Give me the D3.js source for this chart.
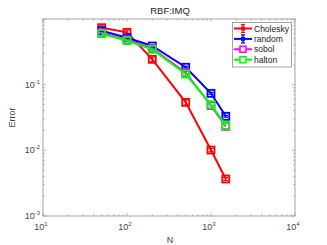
<!DOCTYPE html>
<html>
<head>
<meta charset="utf-8">
<script src="https://cdn.jsdelivr.net/npm/d3@7"></script>
<style>
  body { margin: 0; background: #fff; }
  text { font-family: "Liberation Sans", Arial, sans-serif; }
</style>
</head>
<body>
<script>
var nPoints = [50, 100, 200, 500, 1000, 1500];
var cholesky = [0.736, 0.626, 0.243, 0.0538, 0.0101, 0.00366];
var choleskyErr = [0.05, 0.05, 0.02, 0.005, 0.0006, 0.0002];
var random = [0.663, 0.519, 0.388, 0.184, 0.0738, 0.033];
var randomErr = [0.025, 0.02, 0.015, 0.006, 0.0025, 0.001];
var sobol = [0.615, 0.48, 0.355, 0.152, 0.048, 0.0232];
var halton = [0.597, 0.467, 0.345, 0.145, 0.0495, 0.024];
var seriesNames = ["Cholesky", "random", "sobol", "halton"];
var seriesColors = ["#ff0000", "#0000ff", "#ff00ff", "#00ff00"];
var xTickExps = [1, 2, 3, 4];
var yTickExps = [-3, -2, -1];

var W = 327, H = 245;
var m = {left: 43, right: 32, top: 19, bottom: 29};

var svg = d3.select("body").append("svg")
    .attr("width", W)
    .attr("height", H);

var x = d3.scaleLog().domain([10, 10000]).range([m.left, W - m.right]);
var y = d3.scaleLog().domain([0.001, 1]).range([H - m.bottom, m.top]);

var axisCol = "#8c8c8c";
var x0 = x.range()[0], x1 = x.range()[1], y0 = y.range()[0], y1 = y.range()[1];

// minor / major ticks on all 4 sides
var g = svg.append("g");
function xTicks() {
  var t = [];
  for (var e = 1; e < 4; e++) for (var k = 1; k < 10; k++) t.push({v: k * Math.pow(10, e), major: k == 1});
  t.push({v: 10000, major: true});
  return t;
}
function yTicks() {
  var t = [];
  for (var e = -3; e < 0; e++) for (var k = 1; k < 10; k++) t.push({v: k * Math.pow(10, e), major: k == 1});
  t.push({v: 1, major: true});
  return t;
}
xTicks().forEach(function(d) {
  var len = d.major ? 3 : 1.8;
  g.append("line").attr("x1", x(d.v)).attr("x2", x(d.v)).attr("y1", y0).attr("y2", y0 - len)
    .attr("stroke", axisCol).attr("stroke-width", 0.6);
  g.append("line").attr("x1", x(d.v)).attr("x2", x(d.v)).attr("y1", y1).attr("y2", y1 + len)
    .attr("stroke", axisCol).attr("stroke-width", 0.6);
});
yTicks().forEach(function(d) {
  var len = d.major ? 3 : 1.8;
  g.append("line").attr("y1", y(d.v)).attr("y2", y(d.v)).attr("x1", x0).attr("x2", x0 + len)
    .attr("stroke", axisCol).attr("stroke-width", 0.6);
  g.append("line").attr("y1", y(d.v)).attr("y2", y(d.v)).attr("x1", x1).attr("x2", x1 - len)
    .attr("stroke", axisCol).attr("stroke-width", 0.6);
});
g.append("rect").attr("x", x0).attr("y", y1).attr("width", x1 - x0).attr("height", y0 - y1)
  .attr("fill", "none").attr("stroke", axisCol).attr("stroke-width", 0.8);

// tick labels
var labCol = "#444";
xTickExps.forEach(function(e) {
  var t = svg.append("text").attr("x", x(Math.pow(10, e)) - 2).attr("y", y0 + 14)
    .attr("text-anchor", "middle").attr("font-size", 9).attr("fill", labCol);
  t.append("tspan").text("10");
  t.append("tspan").attr("dy", -4).attr("font-size", 6).text(e);
});
yTickExps.forEach(function(e) {
  var t = svg.append("text").attr("x", x0 - 3).attr("y", y(Math.pow(10, e)) + 3)
    .attr("text-anchor", "end").attr("font-size", 9).attr("fill", labCol);
  t.append("tspan").text("10");
  t.append("tspan").attr("dy", -4).attr("font-size", 6).text(e);
});

svg.append("text").attr("x", (x0 + x1) / 2 + 1).attr("y", H - 2).attr("text-anchor", "middle")
  .attr("font-size", 9).attr("fill", labCol).text("N");
svg.append("text").attr("transform", "translate(15," + ((y0 + y1) / 2) + ") rotate(-90)")
  .attr("text-anchor", "middle").attr("font-size", 9).attr("fill", labCol).text("Error");
svg.append("text").attr("x", (x0 + x1) / 2 + 1).attr("y", 14).attr("text-anchor", "middle")
  .attr("font-size", 9.5).attr("fill", "#222").text("RBF:IMQ");

// series
var allData = [cholesky, random, sobol, halton];
var allErr = [choleskyErr, randomErr, null, null];
var line = d3.line().x(function(d) { return x(d[0]); }).y(function(d) { return y(d[1]); });
var ms = 7;

allData.forEach(function(vals, i) {
  var pts = nPoints.map(function(n, j) { return [n, vals[j]]; });
  var col = seriesColors[i];
  var sg = svg.append("g");
  sg.append("path").datum(pts).attr("d", line).attr("fill", "none")
    .attr("stroke", col).attr("stroke-width", 2);
  if (allErr[i]) {
    pts.forEach(function(p, j) {
      var e = allErr[i][j];
      var ya = y(p[1] + e), yb = y(p[1] - e);
      sg.append("line").attr("x1", x(p[0])).attr("x2", x(p[0])).attr("y1", ya).attr("y2", yb)
        .attr("stroke", col).attr("stroke-width", 1.5);
      [ya, yb].forEach(function(yy) {
        sg.append("line").attr("x1", x(p[0]) - 2.5).attr("x2", x(p[0]) + 2.5).attr("y1", yy).attr("y2", yy)
          .attr("stroke", col).attr("stroke-width", 1.2);
      });
    });
  }
  sg.selectAll("rect.mk").data(pts).enter().append("rect")
    .attr("x", function(d) { return x(d[0]) - ms / 2; })
    .attr("y", function(d) { return y(d[1]) - ms / 2; })
    .attr("width", ms).attr("height", ms)
    .attr("fill", "none").attr("stroke", col).attr("stroke-width", 1.8);
});

// legend
var lg = svg.append("g");
lg.append("rect").attr("x", 232.5).attr("y", 22.5).attr("width", 59).attr("height", 44.5)
  .attr("fill", "#fff").attr("stroke", axisCol).attr("stroke-width", 0.8);
seriesNames.forEach(function(name, i) {
  var yy = 28.5 + i * 10.4;
  var col = seriesColors[i];
  lg.append("line").attr("x1", 234).attr("x2", 252).attr("y1", yy).attr("y2", yy)
    .attr("stroke", col).attr("stroke-width", 2);
  if (i < 2) {
    lg.append("line").attr("x1", 243).attr("x2", 243).attr("y1", yy - 4).attr("y2", yy + 4)
      .attr("stroke", col).attr("stroke-width", 1.3);
    [yy - 4, yy + 4].forEach(function(v) {
      lg.append("line").attr("x1", 241).attr("x2", 245).attr("y1", v).attr("y2", v)
        .attr("stroke", col).attr("stroke-width", 1.3);
    });
    lg.append("rect").attr("x", 241.5).attr("y", yy - 1.5).attr("width", 3).attr("height", 3)
      .attr("fill", "none").attr("stroke", col).attr("stroke-width", 1);
  } else {
    lg.append("rect").attr("x", 240).attr("y", yy - 3).attr("width", 6).attr("height", 6)
      .attr("fill", "#fff").attr("stroke", col).attr("stroke-width", 1.6);
  }
  lg.append("text").attr("x", 254).attr("y", yy + 3).attr("font-size", 8.5).attr("fill", "#222").text(name);
});
</script>
</body>
</html>
